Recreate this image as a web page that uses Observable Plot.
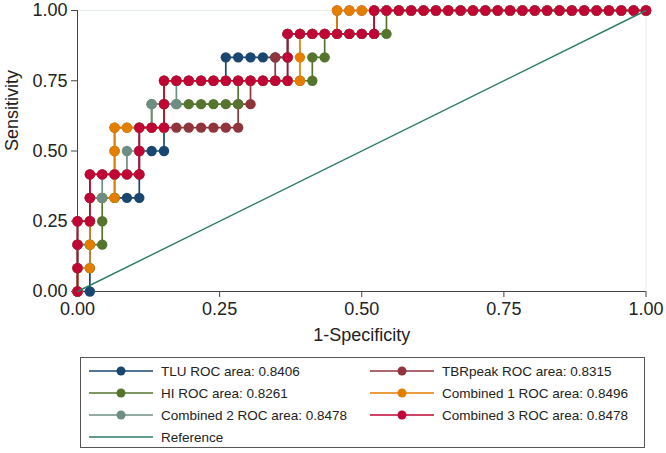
<!DOCTYPE html>
<html><head><meta charset="utf-8">
<script src="https://cdn.jsdelivr.net/npm/d3@7"></script>
<script src="https://cdn.jsdelivr.net/npm/@observablehq/plot@0.6"></script>
<style>
body{margin:0;background:#fff;font-family:"Liberation Sans",Arial,sans-serif;}
#wrap{position:relative;width:666px;height:453px;overflow:hidden;}
#legend{position:absolute;left:80px;top:357px;width:565px;height:91px;border:1px solid #555;box-sizing:border-box;background:#fff;}
.item{position:absolute;display:flex;align-items:center;font-size:13.5px;color:#222;height:18px;}
.item svg{margin-right:8px;}
</style></head><body><div id="wrap"><div id="chart"></div><div id="legend"></div></div>
<script>
// counts of negatives / positives (false positives out of 46, true positives out of 12)
const negatives = 46, positives = 12;
const seriesNames = ["TLU", "TBRpeak", "HI", "Combined 1", "Combined 2", "Combined 3"];
const seriesAUC = ["0.8406", "0.8315", "0.8261", "0.8496", "0.8478", "0.8478"];
const seriesColors = ["#1a476f", "#90353b", "#55752f", "#e37e00", "#6e8e84", "#c10534"];
const referenceColor = "#2d7b6b";
const xTicks = [0, 0.25, 0.5, 0.75, 1];
const yTicks = [0, 0.25, 0.5, 0.75, 1];

// [false positives, true positives] at each cutoff
const tluPoints = [[0,0],[1,0],[1,1],[1,2],[1,3],[1,4],[2,4],[3,4],[4,4],[5,4],[5,5],[5,6],[6,6],[7,6],[7,7],[7,8],
 [7,9],[8,9],[9,9],[10,9],[11,9],[12,9],[12,10],[13,10],[14,10],[15,10],[16,10],[17,10],
 [17,11],[18,11],[19,11],[20,11],[21,11],[22,11],[23,11],[24,11],
 [24,12],[25,12],[26,12],[27,12],[28,12],[29,12],[30,12],[31,12],[32,12],[33,12],[34,12],[35,12],[36,12],[37,12],[38,12],[39,12],[40,12],[41,12],[42,12],[43,12],[44,12],[45,12],[46,12]];
const tbrPoints = [[0,0],[0,1],[0,2],[0,3],[1,3],[1,4],[1,5],[2,5],[3,5],[4,5],[5,5],[5,6],
 [5,7],[6,7],[7,7],[8,7],[9,7],[10,7],[11,7],[12,7],[13,7],[13,8],[14,8],[14,9],[15,9],[16,9],[16,10],[17,10],
 [17,11],[18,11],[19,11],[20,11],[21,11],
 [21,12],[22,12],[23,12],[24,12],[25,12],[26,12],[27,12],[28,12],[29,12],[30,12],[31,12],[32,12],[33,12],[34,12],[35,12],[36,12],[37,12],[38,12],[39,12],[40,12],[41,12],[42,12],[43,12],[44,12],[45,12],[46,12]];
const hiPoints = [[0,0],[0,1],[0,2],[1,2],[2,2],[2,3],[2,4],[3,4],[3,5],[3,6],[3,7],[4,7],[5,7],[6,7],
 [6,8],[7,8],[8,8],[9,8],[10,8],[11,8],[12,8],[13,8],[13,9],[14,9],[15,9],[16,9],[17,9],[18,9],[19,9],[19,10],[20,10],
 [20,11],[21,11],[22,11],[23,11],[24,11],[25,11],
 [25,12],[26,12],[27,12],[28,12],[29,12],[30,12],[31,12],[32,12],[33,12],[34,12],[35,12],[36,12],[37,12],[38,12],[39,12],[40,12],[41,12],[42,12],[43,12],[44,12],[45,12],[46,12]];
const combined1Points = [[0,0],[0,1],[1,1],[1,2],[1,3],[1,4],[2,4],[3,4],[3,5],[3,6],[3,7],[4,7],[5,7],[6,7],[7,7],[7,8],
 [7,9],[8,9],[9,9],[10,9],[11,9],[12,9],[13,9],[14,9],[15,9],[16,9],[17,9],[18,9],[18,10],
 [18,11],[19,11],[20,11],[21,11],
 [21,12],[22,12],[23,12],[24,12],[25,12],[26,12],[27,12],[28,12],[29,12],[30,12],[31,12],[32,12],[33,12],[34,12],[35,12],[36,12],[37,12],[38,12],[39,12],[40,12],[41,12],[42,12],[43,12],[44,12],[45,12],[46,12]];
const combined2Points = [[0,0],[0,1],[0,2],[0,3],[1,3],[1,4],[2,4],[2,5],[3,5],[4,5],[4,6],[5,6],[5,7],[6,7],
 [6,8],[7,8],[8,8],[8,9],[9,9],[10,9],[11,9],[12,9],[13,9],[14,9],[15,9],[16,9],[17,9],[17,10],
 [17,11],[18,11],[19,11],[20,11],[21,11],[22,11],[23,11],[24,11],
 [24,12],[25,12],[26,12],[27,12],[28,12],[29,12],[30,12],[31,12],[32,12],[33,12],[34,12],[35,12],[36,12],[37,12],[38,12],[39,12],[40,12],[41,12],[42,12],[43,12],[44,12],[45,12],[46,12]];
const combined3Points = [[0,0],[0,1],[0,2],[0,3],[1,3],[1,4],[1,5],[2,5],[3,5],[4,5],[5,5],[5,6],[5,7],[6,7],[7,7],[7,8],
 [7,9],[8,9],[9,9],[10,9],[11,9],[12,9],[13,9],[14,9],[15,9],[16,9],[17,9],[17,10],
 [17,11],[18,11],[19,11],[20,11],[21,11],[22,11],[23,11],[24,11],
 [24,12],[25,12],[26,12],[27,12],[28,12],[29,12],[30,12],[31,12],[32,12],[33,12],[34,12],[35,12],[36,12],[37,12],[38,12],[39,12],[40,12],[41,12],[42,12],[43,12],[44,12],[45,12],[46,12]];
const referenceLine = [[0,0],[1,1]];

const seriesPoints = [tluPoints, tbrPoints, hiPoints, combined1Points, combined2Points, combined3Points];
const series = seriesPoints.map((pts, i) => pts.map(([fp, tp]) => ({fpr: fp / negatives, tpr: tp / positives, name: seriesNames[i]})));

const H = 350;
const curveMarks = [];
series.forEach((data, i) => {
  curveMarks.push(Plot.line(data, {x: "fpr", y: "tpr", stroke: seriesColors[i], strokeWidth: 1.7}));
  curveMarks.push(Plot.dot(data, {x: "fpr", y: "tpr", r: 5.2, fill: seriesColors[i], stroke: "none"}));
});

const chart = Plot.plot({
  width: 666, height: H,
  marginLeft: 77, marginRight: 20.5, marginTop: 10, marginBottom: H - 291,
  style: {fontFamily: "'Liberation Sans', Arial, sans-serif", color: "#222", background: "#fff"},
  x: {domain: [0, 1]},
  y: {domain: [0, 1]},
  marks: [
    Plot.frame({stroke: "#e3ebef"}),
    Plot.axisX({ticks: xTicks, tickFormat: d3.format(".2f"), tickSize: 6, tickPadding: 5, fontSize: 18, label: null, stroke: "#444"}),
    Plot.axisY({ticks: yTicks, tickFormat: d3.format(".2f"), tickSize: 6, tickPadding: 4, fontSize: 18, label: null, stroke: "#444"}),
    Plot.ruleY([0], {stroke: "#444"}),
    Plot.ruleX([0], {stroke: "#444"}),
    ...curveMarks,
    Plot.line(referenceLine, {x: d => d[0], y: d => d[1], stroke: referenceColor, strokeWidth: 1.4}),
    Plot.text(["1-Specificity"], {frameAnchor: "bottom", dy: 49, fontSize: 18, fill: "#222"}),
    Plot.text(["Sensitivity"], {frameAnchor: "left", rotate: -90, dx: -65, fontSize: 18, fill: "#222"})
  ]
});
document.getElementById("chart").appendChild(chart);

// legend
const legend = document.getElementById("legend");
const items = seriesNames.map((n, i) => ({label: `${n} ROC area: ${seriesAUC[i]}`, color: seriesColors[i], dot: true}));
items.push({label: "Reference", color: referenceColor, dot: false});
items.forEach((it, idx) => {
  const col = idx === 6 ? 0 : idx % 2;
  const row = Math.floor(idx / 2);
  const div = document.createElement("div");
  div.className = "item";
  div.style.left = (col === 0 ? 8 : 289) + "px";
  div.style.top = (4 + row * 22) + "px";
  div.innerHTML = `<svg width="64" height="12"><line x1="0" x2="64" y1="6" y2="6" stroke="${it.color}" stroke-width="1.6"/>${it.dot ? `<circle cx="32" cy="6" r="4.5" fill="${it.color}"/>` : ""}</svg><span>${it.label}</span>`;
  legend.appendChild(div);
});
</script></body></html>
